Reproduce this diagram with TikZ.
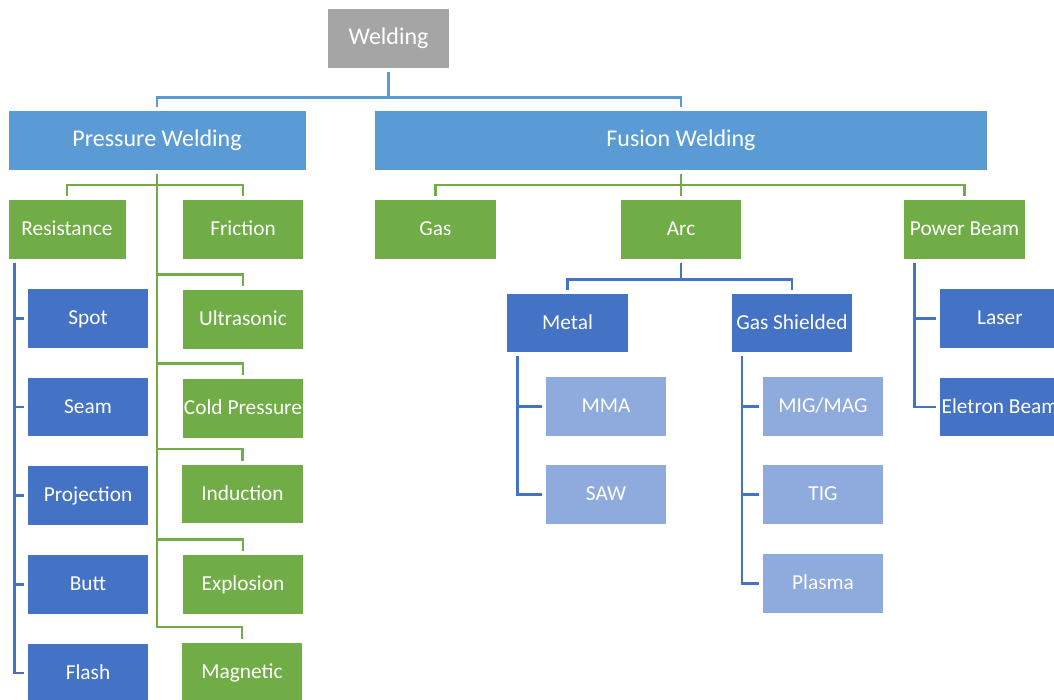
\documentclass[tikz,border=0pt]{standalone}
\usepackage{fontspec}
\setmainfont{Carlito}
\usetikzlibrary{calc}
\definecolor{rootgray}{HTML}{A5A5A5}
\definecolor{mainblue}{HTML}{5B9BD5}
\definecolor{leafgreen}{HTML}{70AD47}
\definecolor{darkblue}{HTML}{4472C4}
\definecolor{paleblue}{HTML}{8FAADC}

\begin{document}
\begin{tikzpicture}[x=0.75pt, y=-0.75pt,
  box/.style={draw=white, line width=0.5pt, text=white, inner sep=0pt,
    minimum width=91.1pt, minimum height=44.6pt, text height=0.94em, text depth=0.02em,
    font=\fontsize{16}{19}\selectfont},
  graybox/.style={box, fill=rootgray, font=\fontsize{18}{22}\selectfont},
  bigbox/.style={box, fill=mainblue, font=\fontsize{18}{22}\selectfont},
  greenbox/.style={box, fill=leafgreen},
  bluebox/.style={box, fill=darkblue},
  palebox/.style={box, fill=paleblue},
  link/.style={line width=1.9pt, shorten <=2.25pt, shorten >=2.25pt},
  toplink/.style={link, mainblue},
  greenlink/.style={link, leafgreen},
  bluelink/.style={link, darkblue}]
 \useasboundingbox (0,0) rectangle (1054,700);

 \node [graybox] (welding) at (388.5,38.5) {Welding};
 \node [bigbox, minimum width=223.5pt] (pressure) at (157,140.5) {Pressure Welding};
 \node [bigbox, minimum width=459.4pt] (fusion) at (681,140.5) {Fusion Welding};

 \draw [toplink] (welding.south) -- ++(0,29) -| (pressure.north);
 \draw [toplink] (welding.south) -- ++(0,29) -| (fusion.north);

 \begin {scope}
  \node [greenbox, minimum width=88.5pt] (resistance) at (67,229.5) {Resistance};
  \node [greenbox] (friction) at (243,229.5) {Friction};
  \node [greenbox] (ultrasonic) at (243,319.5) {Ultrasonic};
  \node [greenbox] (coldpressure) at (243,408.5) {Cold Pressure};
  \node [greenbox] (induction) at (242.5,494) {Induction};
  \node [greenbox] (explosion) at (243,584.5) {Explosion};
  \node [greenbox] (magnetic) at (242,672) {Magnetic};

  \node [bluebox] (spot) at (88,318.5) {Spot};
  \node [bluebox] (seam) at (88,407) {Seam};
  \node [bluebox] (projection) at (88,495.5) {Projection};
  \node [bluebox] (butt) at (88,584.5) {Butt};
  \node [bluebox] (flash) at (88,673) {Flash};

  \draw [greenlink] (pressure.south) -- ++(0,14.5) -| (resistance.north);
  \draw [greenlink] (pressure.south) -- ++(0,14.5) -| (friction.north);
  \foreach \n in {ultrasonic,coldpressure,induction,explosion,magnetic}
   \draw [greenlink] (pressure.south) |- ($(\n.north)+(0,-15)$) -- (\n.north);
  \foreach \n in {spot,seam,projection,butt,flash}
   \draw [bluelink] ([xshift=5.25pt]resistance.south west) |- (\n.west);
 \end {scope}

 \begin {scope}
  \node [greenbox] (gas) at (435.5,229.5) {Gas};
  \node [greenbox] (arc) at (681,229.5) {Arc};
  \node [greenbox] (powerbeam) at (964.5,229.5) {Power Beam};

  \node [bluebox] (metal) at (567.5,323) {Metal};
  \node [bluebox] (gasshielded) at (792,323) {Gas Shielded};

  \node [palebox] (mma) at (606,406.5) {MMA};
  \node [palebox] (saw) at (606,494.5) {SAW};
  \node [palebox] (migmag) at (823,406.5) {MIG/MAG};
  \node [palebox] (tig) at (823,494.5) {TIG};
  \node [palebox] (plasma) at (823,583.5) {Plasma};

  \node [bluebox] (laser) at (1000,318.5) {Laser};
  \node [bluebox] (eletron) at (1000,407) {Eletron Beam};

  \foreach \n in {gas,arc,powerbeam}
   \draw [greenlink] (fusion.south) -- ++(0,14.5) -| (\n.north);
  \foreach \n in {metal,gasshielded}
   \draw [bluelink] (arc.south) -- ++(0,20) -| (\n.north);
  \foreach \n in {mma,saw}
   \draw [bluelink] ([xshift=8.25pt]metal.south west) |- (\n.west);
  \foreach \n in {migmag,tig,plasma}
   \draw [bluelink] ([xshift=8.25pt]gasshielded.south west) |- (\n.west);
  \foreach \n in {laser,eletron}
   \draw [bluelink] ([xshift=8.25pt]powerbeam.south west) |- (\n.west);
 \end {scope}
\end{tikzpicture}
\end{document}
